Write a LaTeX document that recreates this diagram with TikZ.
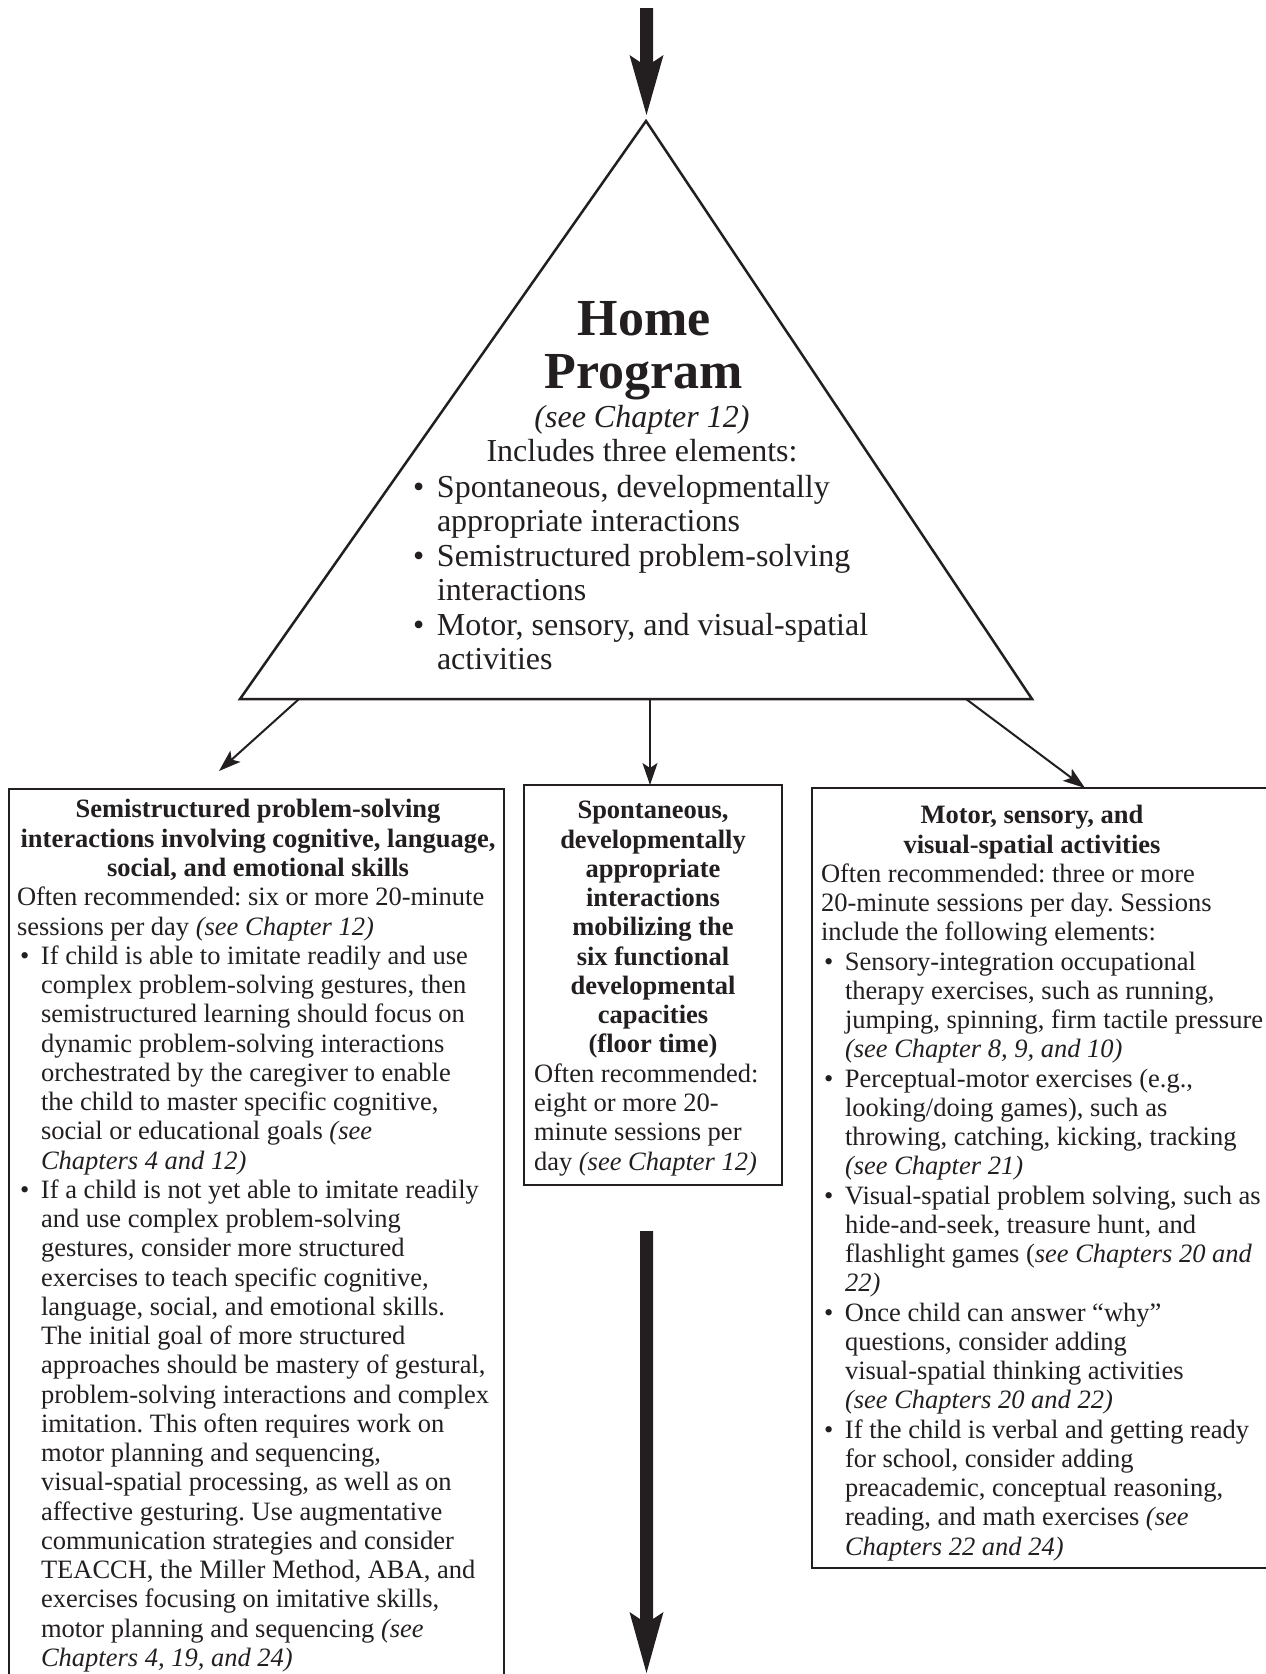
\documentclass[tikz,border=0pt]{standalone}
\usepackage{fontspec}
\setmainfont{Liberation Serif}
\usetikzlibrary{arrows.meta}
\definecolor{ink}{RGB}{35,31,32}
\newcommand\mybul{\makebox[24pt][l]{\hspace{3pt}\textbullet}}
\newcommand\myind{\hspace*{24pt}}
\newcommand\trbul{\makebox[26pt][l]{\hspace{2pt}\textbullet}}
\newcommand\trind{\hspace*{26pt}}
\frenchspacing
\begin{document}
\begin{tikzpicture}[x=1pt,y=-1pt,
  every node/.style={text=ink},
  body/.style={inner sep=0pt, outer sep=0pt, font=\frenchspacing\fontsize{26.5}{29.25}\selectfont},
  headtxt/.style={body, align=center, font=\frenchspacing\fontsize{26.5}{29.25}\selectfont\bfseries},
  bodytxt/.style={body, align=left},
  tritxt/.style={inner sep=0pt, outer sep=0pt, font=\frenchspacing\fontsize{32}{34.5}\selectfont},
  boxline/.style={draw=ink, line width=2.5pt, line join=miter},
  thinarrow/.style={draw=ink, line width=2pt, -{Stealth[length=22pt,width=15pt,inset=5pt]}},
  fatarrow/.style={fill=ink, draw=none},
]
\fill[white] (0,0) rectangle (1266,1674);
\useasboundingbox (0,0) rectangle (1266,1674);

% top fat arrow
\coordinate (topstart) at (646.5,8);
\coordinate (toptip) at (646.5,115);
\fill[fatarrow] (640,8) -- (653,8) -- (653,62) -- (663.5,55) -- (toptip) -- (629.5,55) -- (640,62) -- cycle;

% triangle
\coordinate (apex) at (646,121);
\coordinate (bl) at (240,699);
\coordinate (br) at (1032,699);
\draw[draw=ink, line width=2.5pt, line join=miter] (apex) -- (bl) -- (br) -- cycle;

\node[tritxt, anchor=north, font=\fontsize{52}{53}\selectfont\bfseries, align=center] (htitle) at (644,297.9)
  {\strut Home\\Program};
\node[tritxt, anchor=north, align=center] (hsub) at (642,402.85)
  {\strut\textit{(see Chapter 12)}\\Includes three elements:};
\node[tritxt, anchor=north west, align=left] (hlist) at (411,472.85)
  {\strut\trbul Spontaneous, developmentally\\
   \trind appropriate interactions\\
   \trbul Semistructured problem-solving\\
   \trind interactions\\
   \trbul Motor, sensory, and visual-spatial\\
   \trind activities};

% boxes
\draw[boxline] (9,1678) -- (9,789) -- (504,789) -- (504,1678);
\draw[boxline] (524,785) rectangle (782,1185);
\draw[boxline] (1270,788) -- (812,788) -- (812,1568) -- (1270,1568);

\coordinate (lboxtop) at (219,771);
\coordinate (mboxtop) at (650,785);
\coordinate (rboxtop) at (1085,788);
\coordinate (aL) at (299,699);
\coordinate (aM) at (650,699);
\coordinate (aR) at (966,699);
\draw[thinarrow] (aL) -- (lboxtop);
\draw[thinarrow] (aM) -- (mboxtop);
\draw[thinarrow] (aR) -- (rboxtop);

% left box text
\node[headtxt, anchor=north] (lhead) at (258,797.5)
  {\strut Semistructured problem-solving\\
   interactions involving cognitive, language,\\
   social, and emotional skills};
\node[bodytxt, anchor=north west] (lbody) at (17,885.3)
  {\strut Often recommended: six or more 20-minute\\
   sessions per day \textit{(see Chapter 12)}\\
   \mybul If child is able to imitate readily and use\\
   \myind complex problem-solving gestures, then\\
   \myind semistructured learning should focus on\\
   \myind dynamic problem-solving interactions\\
   \myind orchestrated by the caregiver to enable\\
   \myind the child to master specific cognitive,\\
   \myind social or educational goals \textit{(see}\\
   \myind \textit{Chapters 4 and 12)}\\
   \mybul If a child is not yet able to imitate readily\\
   \myind and use complex problem-solving\\
   \myind gestures, consider more structured\\
   \myind exercises to teach specific cognitive,\\
   \myind language, social, and emotional skills.\\
   \myind The initial goal of more structured\\
   \myind approaches should be mastery of gestural,\\
   \myind problem-solving interactions and complex\\
   \myind imitation. This often requires work on\\
   \myind motor planning and sequencing,\\
   \myind visual-spatial processing, as well as on\\
   \myind affective gesturing. Use augmentative\\
   \myind communication strategies and consider\\
   \myind TEACCH, the Miller Method, ABA, and\\
   \myind exercises focusing on imitative skills,\\
   \myind motor planning and sequencing \textit{(see}\\
   \myind \textit{Chapters 4, 19, and 24)}};

% middle box text
\node[headtxt, anchor=north] (mhead) at (653,798.5)
  {\strut Spontaneous,\\ developmentally\\ appropriate\\ interactions\\ mobilizing the\\
   six functional\\ developmental\\ capacities\\ (floor time)};
\node[bodytxt, anchor=north west] (mbody) at (534,1061.8)
  {\strut Often recommended:\\
   eight or more 20-\\
   minute sessions per\\
   day \textit{(see Chapter 12)}};

% right box text
\node[headtxt, anchor=north] (rhead) at (1032,803.5)
  {\strut Motor, sensory, and\\ visual-spatial activities};
\node[bodytxt, anchor=north west] (rbody) at (821,862)
  {\strut Often recommended: three or more\\
   20-minute sessions per day. Sessions\\
   include the following elements:\\
   \mybul Sensory-integration occupational\\
   \myind therapy exercises, such as running,\\
   \myind jumping, spinning, firm tactile pressure\\
   \myind \textit{(see Chapter 8, 9, and 10)}\\
   \mybul Perceptual-motor exercises (e.g.,\\
   \myind looking/doing games), such as\\
   \myind throwing, catching, kicking, tracking\\
   \myind \textit{(see Chapter 21)}\\
   \mybul Visual-spatial problem solving, such as\\
   \myind hide-and-seek, treasure hunt, and\\
   \myind flashlight games (\textit{see Chapters 20 and}\\
   \myind \textit{22)}\\
   \mybul Once child can answer “why”\\
   \myind questions, consider adding\\
   \myind visual-spatial thinking activities\\
   \myind \textit{(see Chapters 20 and 22)}\\
   \mybul If the child is verbal and getting ready\\
   \myind for school, consider adding\\
   \myind preacademic, conceptual reasoning,\\
   \myind reading, and math exercises \textit{(see}\\
   \myind \textit{Chapters 22 and 24)}};

% bottom fat arrow
\coordinate (botstart) at (646.5,1231);
\coordinate (bottip) at (646.5,1673);
\fill[fatarrow] (640,1231) -- (653,1231) -- (653,1619) -- (663.5,1612) -- (bottip) -- (629.5,1612) -- (640,1619) -- cycle;
\end{tikzpicture}
\end{document}
